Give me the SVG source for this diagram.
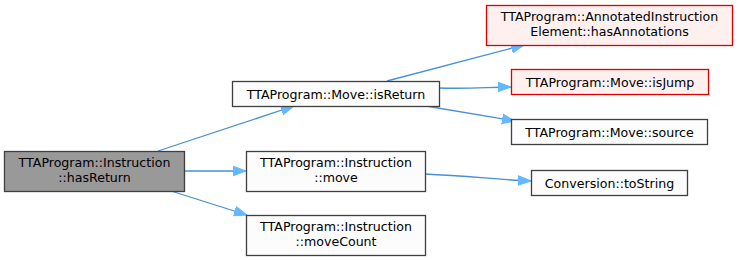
<svg xmlns="http://www.w3.org/2000/svg" width="737" height="260" viewBox="0 0 737 260">
  <style>
    .node rect { fill: #fbfcfb; stroke: #3f3f3f; stroke-width: 1.3; }
    .node.focus rect { fill: #999999; }
    .node.warn rect { fill: #fff0f0; stroke: #e00000; }
    .node text { font-family: "DejaVu Sans", "Liberation Sans", sans-serif; font-size: 12.6px; fill: #000000; text-anchor: middle; }
    .edges path { fill: none; stroke: #4590d6; stroke-width: 1.3; marker-end: url(#arrow); }
  </style>
  <defs>
    <marker id="arrow" markerUnits="userSpaceOnUse" markerWidth="14" markerHeight="12" viewBox="0 -6 14 12" refX="13" refY="0" orient="auto">
      <path d="M0,-4.8 L13,0 L0,4.8 Z" fill="#63b8ff" stroke="#63b8ff" stroke-width="1"/>
    </marker>
  </defs>

  <!-- call edges -->
  <g class="edges" id="edges">
    <path d="M158,151 L294,106"/>
    <path d="M184,171 L246,171"/>
    <path d="M171,191 L247,215"/>
    <path d="M387,81 L524,45"/>
    <path d="M439,88 C470,89 490,87 511,87"/>
    <path d="M426,106 L515,121"/>
    <path d="M425,174 C470,176 500,180 531,181"/>
  </g>

  <g class="node focus" id="n_hasReturn">
    <rect x="4.5" y="151.5" width="180" height="40"/>
    <text x="94.5" y="167">TTAProgram::Instruction</text>
    <text x="94.5" y="181.5">::hasReturn</text>
  </g>

  <g class="node" id="n_isReturn">
    <rect x="232.5" y="81.5" width="207" height="25"/>
    <text x="336" y="98.5">TTAProgram::Move::isReturn</text>
  </g>

  <g class="node warn" id="n_hasAnnotations">
    <rect x="486.5" y="5.5" width="246" height="40"/>
    <text x="609.5" y="21">TTAProgram::AnnotatedInstruction</text>
    <text x="609.5" y="35.5">Element::hasAnnotations</text>
  </g>

  <g class="node warn" id="n_isJump">
    <rect x="511.5" y="69.5" width="197" height="25"/>
    <text x="610" y="86.5">TTAProgram::Move::isJump</text>
  </g>

  <g class="node" id="n_source">
    <rect x="511.5" y="119.5" width="196" height="25"/>
    <text x="609.5" y="136.5">TTAProgram::Move::source</text>
  </g>

  <g class="node" id="n_move">
    <rect x="246.5" y="151.5" width="179" height="40"/>
    <text x="336" y="167">TTAProgram::Instruction</text>
    <text x="336" y="181.5">::move</text>
  </g>

  <g class="node" id="n_moveCount">
    <rect x="246.5" y="215.5" width="179" height="40"/>
    <text x="336" y="231">TTAProgram::Instruction</text>
    <text x="336" y="245.5">::moveCount</text>
  </g>

  <g class="node" id="n_toString">
    <rect x="531.5" y="170.5" width="156" height="25"/>
    <text x="609.5" y="187.5">Conversion::toString</text>
  </g>
</svg>
